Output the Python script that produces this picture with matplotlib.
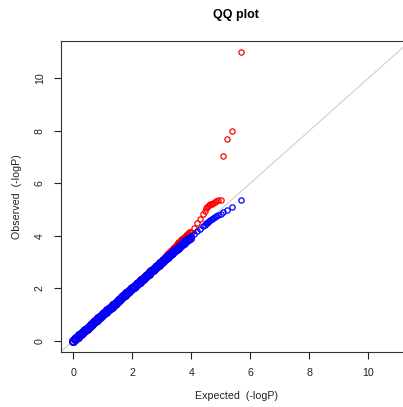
import matplotlib
matplotlib.use("Agg")
import matplotlib.pyplot as plt

plt.rcParams['font.family'] = ['Liberation Sans', 'DejaVu Sans']

# dense part of the curve (expected -logP), shared by both series
expected_dense = [0.00, 0.05, 0.10, 0.15, 0.20, 0.25, 0.30, 0.35, 0.40, 0.45,
                  0.50, 0.55, 0.60, 0.65, 0.70, 0.75, 0.80, 0.85, 0.90, 0.95,
                  1.00, 1.05, 1.10, 1.15, 1.20, 1.25, 1.30, 1.35, 1.40, 1.45,
                  1.50, 1.55, 1.60, 1.65, 1.70, 1.75, 1.80, 1.85, 1.90, 1.95,
                  2.00, 2.05, 2.10, 2.15, 2.20, 2.25, 2.30, 2.35, 2.40, 2.45,
                  2.50, 2.55, 2.60, 2.65, 2.70, 2.75, 2.80, 2.85, 2.90, 2.95,
                  3.00, 3.05, 3.10, 3.15, 3.20, 3.25, 3.30, 3.35, 3.40, 3.45,
                  3.50, 3.55, 3.60, 3.65, 3.70, 3.75, 3.80, 3.85, 3.90, 3.95]

red_dense = [0.00, 0.05, 0.10, 0.15, 0.20, 0.25, 0.30, 0.35, 0.40, 0.45,
             0.50, 0.55, 0.60, 0.65, 0.70, 0.75, 0.80, 0.85, 0.90, 0.95,
             1.00, 1.05, 1.10, 1.15, 1.20, 1.25, 1.30, 1.35, 1.40, 1.45,
             1.50, 1.55, 1.60, 1.65, 1.70, 1.75, 1.80, 1.85, 1.90, 1.95,
             2.00, 2.05, 2.10, 2.15, 2.20, 2.25, 2.30, 2.35, 2.40, 2.45,
             2.50, 2.55, 2.60, 2.65, 2.70, 2.75, 2.80, 2.85, 2.90, 2.95,
             3.00, 3.07, 3.13, 3.19, 3.25, 3.31, 3.37, 3.42, 3.48, 3.53,
             3.59, 3.65, 3.71, 3.76, 3.82, 3.87, 3.93, 3.98, 4.04, 4.09]

blue_dense = [0.00, 0.05, 0.10, 0.15, 0.20, 0.25, 0.30, 0.35, 0.40, 0.45,
              0.50, 0.55, 0.60, 0.65, 0.70, 0.75, 0.80, 0.85, 0.90, 0.95,
              1.00, 1.05, 1.10, 1.15, 1.20, 1.25, 1.30, 1.35, 1.40, 1.45,
              1.50, 1.55, 1.60, 1.65, 1.70, 1.75, 1.80, 1.85, 1.90, 1.95,
              2.00, 2.05, 2.10, 2.15, 2.20, 2.25, 2.30, 2.35, 2.40, 2.45,
              2.50, 2.55, 2.60, 2.65, 2.70, 2.75, 2.80, 2.85, 2.90, 2.95,
              3.00, 3.05, 3.10, 3.15, 3.20, 3.25, 3.30, 3.35, 3.40, 3.44,
              3.49, 3.54, 3.58, 3.63, 3.68, 3.73, 3.78, 3.83, 3.88, 3.93]

# sparse tail (top ranks)
expected_tail = [5.69, 5.39, 5.21, 5.09, 4.99, 4.91, 4.84, 4.79, 4.74, 4.69,
                 4.65, 4.61, 4.58, 4.54, 4.51, 4.46, 4.39, 4.29, 4.21, 4.09, 3.99]
red_tail = [11.00, 7.98, 7.70, 7.05, 5.37, 5.35, 5.31, 5.28, 5.25, 5.22,
            5.19, 5.16, 5.12, 5.08, 5.04, 4.95, 4.82, 4.62, 4.49, 4.28, 4.12]
blue_tail = [5.37, 5.11, 4.98, 4.89, 4.84, 4.79, 4.74, 4.70, 4.66, 4.62,
             4.59, 4.55, 4.52, 4.49, 4.47, 4.42, 4.36, 4.27, 4.19, 4.07, 3.97]

fig = plt.figure(figsize=(4.03, 4.07), dpi=100)
ax = fig.add_axes([0.1526, 0.1359, 0.8667, 0.7634])

ax.axline((0, 0), slope=1, color="#c8c8c8", linewidth=0.7, zorder=1)

# red first, blue on top (as in the original)
ax.plot(expected_dense, red_dense, linestyle="none",
        marker="o", ms=5.2, mfc="none", mec="red", mew=1.3, zorder=2)
ax.plot(expected_tail, red_tail, linestyle="none",
        marker="o", ms=3.8, mfc="none", mec="red", mew=0.9, zorder=2)
ax.plot(expected_dense, blue_dense, linestyle="none",
        marker="o", ms=5.2, mfc="none", mec="blue", mew=1.3, zorder=3)
ax.plot(expected_tail, blue_tail, linestyle="none",
        marker="o", ms=3.8, mfc="none", mec="blue", mew=0.9, zorder=3)

ax.set_xlim(-0.40, 11.44)
ax.set_ylim(-0.42, 11.42)
ax.set_xticks([0, 2, 4, 6, 8, 10])
ax.set_yticks([0, 2, 4, 6, 8, 10])
ax.tick_params(axis="both", length=5, width=0.8, labelsize=7.7, pad=7, colors="#222222")
plt.setp(ax.get_yticklabels(), rotation=90, va="center")
for s in ax.spines.values():
    s.set_linewidth(0.8)
    s.set_color("#333333")

ax.set_xlabel("Expected  (-logP)", fontsize=7.7, labelpad=9, color="#222222")
ax.set_ylabel("Observed  (-logP)", fontsize=7.7, labelpad=9, color="#222222")
fig.text(0.585, 0.962, "QQ plot", ha="center", va="center", fontsize=9, fontweight="bold")

fig.savefig("out.png", dpi=100)
